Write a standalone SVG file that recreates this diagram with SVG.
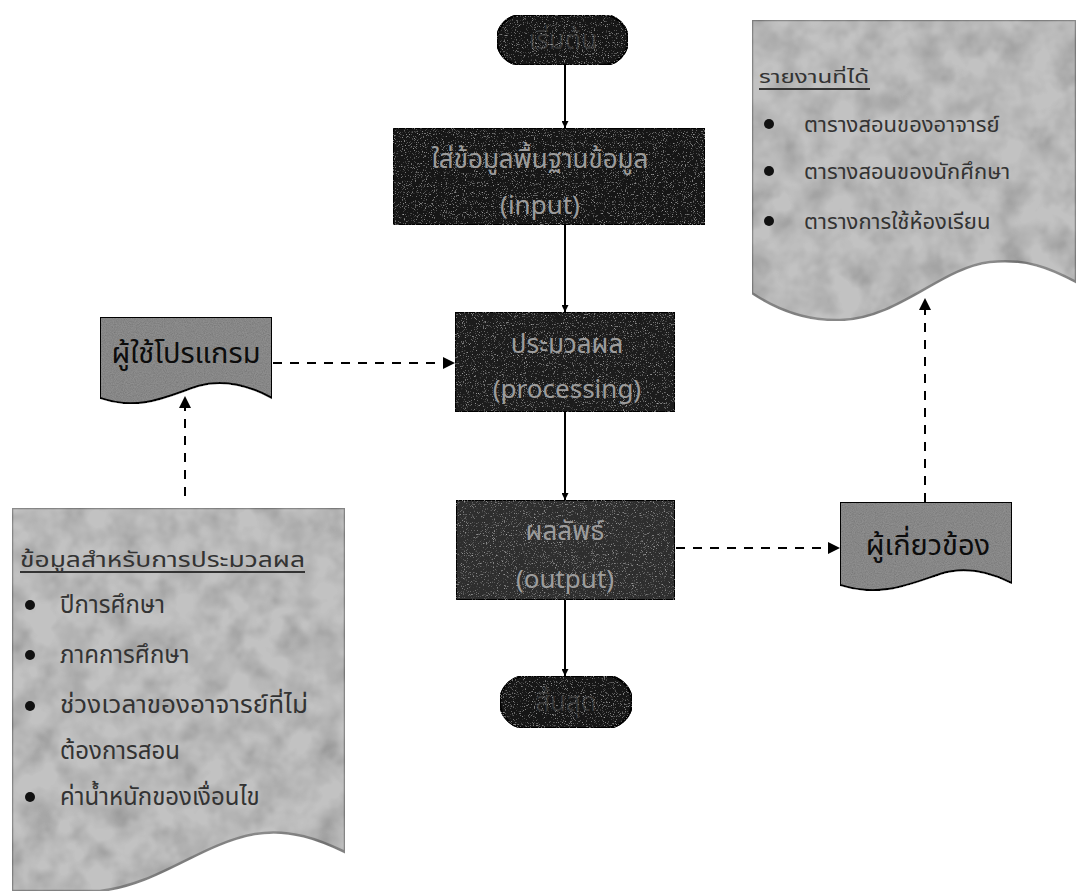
<svg xmlns="http://www.w3.org/2000/svg" width="1076" height="891" viewBox="0 0 1076 891">
  <style>
    .thai { font-family: "Noto Sans Thai", "Noto Sans", "DejaVu Sans", "Liberation Sans", sans-serif; }
    .dark { fill: #141414; stroke: #000; stroke-width: 2; }
    .darkText { fill: #9c9c9c; font-size: 26px; text-anchor: middle; }
    .doc { fill: #8e8e8e; stroke: #000; stroke-width: 2; }
    .docText { fill: #0c0c0c; font-size: 29px; text-anchor: middle; }
    .note { fill: #c2c2c2; stroke: #8a8a8a; stroke-width: 2.5; }
    .noteText { fill: #333; }
    .flow { stroke: #000; stroke-width: 2; fill: none; }
    .dash { stroke: #000; stroke-width: 2; fill: none; stroke-dasharray: 9 8; }
  </style>
  <defs>
    <marker id="arrow" viewBox="0 0 10 10" refX="10" refY="5" markerWidth="7" markerHeight="7" orient="auto" markerUnits="userSpaceOnUse">
      <path d="M0,0 L10,5 L0,10 Z" fill="#000"/>
    </marker>
    <marker id="arrowBig" viewBox="0 0 10 10" refX="10" refY="5" markerWidth="12" markerHeight="12" orient="auto" markerUnits="userSpaceOnUse">
      <path d="M0,0 L10,5 L0,10 Z" fill="#000"/>
    </marker>
    <!-- sparse light speckle for the dark process boxes -->
    <filter id="grain" x="0" y="0" width="100%" height="100%">
      <feTurbulence type="fractalNoise" baseFrequency="0.9" numOctaves="2" seed="4" result="noise"/>
      <feColorMatrix in="noise" type="matrix" values="0.33 0.33 0.33 0 0  0.33 0.33 0.33 0 0  0.33 0.33 0.33 0 0  0 0 0 0 1" result="gray"/>
      <feComponentTransfer in="gray" result="specks">
        <feFuncR type="linear" slope="2" intercept="-1.1"/>
        <feFuncG type="linear" slope="2" intercept="-1.1"/>
        <feFuncB type="linear" slope="2" intercept="-1.1"/>
      </feComponentTransfer>
      <feComposite in="specks" in2="SourceAlpha" operator="in" result="clip"/>
      <feBlend in="SourceGraphic" in2="clip" mode="screen"/>
    </filter>
    <!-- softer speckle for the mid-grey document shapes -->
    <filter id="grainMid" x="0" y="0" width="100%" height="100%">
      <feTurbulence type="fractalNoise" baseFrequency="0.9" numOctaves="2" seed="9" result="noise"/>
      <feColorMatrix in="noise" type="matrix" values="0.33 0.33 0.33 0 0  0.33 0.33 0.33 0 0  0.33 0.33 0.33 0 0  0 0 0 0 1" result="gray"/>
      <feComponentTransfer in="gray" result="soft">
        <feFuncR type="linear" slope="0.9" intercept="0.45"/>
        <feFuncG type="linear" slope="0.9" intercept="0.45"/>
        <feFuncB type="linear" slope="0.9" intercept="0.45"/>
      </feComponentTransfer>
      <feComposite in="soft" in2="SourceAlpha" operator="in" result="clip"/>
      <feBlend in="SourceGraphic" in2="clip" mode="multiply"/>
    </filter>
    <!-- cloudy mottling for the light note sheets -->
    <filter id="mottle" x="0" y="0" width="100%" height="100%">
      <feTurbulence type="fractalNoise" baseFrequency="0.035" numOctaves="3" seed="7" result="noise"/>
      <feColorMatrix in="noise" type="matrix" values="0.33 0.33 0.33 0 0  0.33 0.33 0.33 0 0  0.33 0.33 0.33 0 0  0 0 0 0 1" result="gray"/>
      <feComponentTransfer in="gray" result="soft">
        <feFuncR type="linear" slope="1.2" intercept="0.3"/>
        <feFuncG type="linear" slope="1.2" intercept="0.3"/>
        <feFuncB type="linear" slope="1.2" intercept="0.3"/>
      </feComponentTransfer>
      <feComposite in="soft" in2="SourceAlpha" operator="in" result="clip"/>
      <feBlend in="SourceGraphic" in2="clip" mode="multiply"/>
    </filter>
  </defs>

  <rect width="1076" height="891" fill="#fff"/>

  <!-- connectors -->
  <g id="connectors">
    <line class="flow" x1="565" y1="65" x2="565" y2="128" marker-end="url(#arrow)"/>
    <line class="flow" x1="565" y1="225" x2="565" y2="312" marker-end="url(#arrow)"/>
    <line class="flow" x1="565" y1="412" x2="565" y2="500" marker-end="url(#arrow)"/>
    <line class="flow" x1="565" y1="600" x2="565" y2="676" marker-end="url(#arrow)"/>
    <line class="dash" x1="273" y1="363" x2="455" y2="363" marker-end="url(#arrowBig)"/>
    <line class="dash" x1="185" y1="496" x2="185" y2="396" marker-end="url(#arrowBig)"/>
    <line class="dash" x1="676" y1="548" x2="840" y2="548" marker-end="url(#arrowBig)"/>
    <line class="dash" x1="925" y1="502" x2="925" y2="298" marker-end="url(#arrowBig)"/>
  </g>

  <!-- start terminator -->
  <g id="start">
    <rect class="dark" x="497" y="15" width="131" height="50" rx="25" filter="url(#grain)"/>
    <text class="thai darkText" x="563" y="49" fill-opacity="0.25">เริ่มต้น</text>
  </g>

  <!-- input -->
  <g id="input">
    <rect class="dark" x="393" y="128" width="312" height="97" filter="url(#grain)"/>
    <text class="thai darkText" x="540" y="168">ใส่ข้อมูลพื้นฐานข้อมูล</text>
    <text class="thai darkText" x="540" y="214">(input)</text>
  </g>

  <!-- processing -->
  <g id="process">
    <rect class="dark" x="455" y="312" width="220" height="100" style="fill:#1c1c1c" filter="url(#grain)"/>
    <text class="thai darkText" x="567" y="353">ประมวลผล</text>
    <text class="thai darkText" x="567" y="398">(processing)</text>
  </g>

  <!-- output -->
  <g id="output">
    <rect class="dark" x="456" y="500" width="219" height="100" style="fill:#2e2e2e" filter="url(#grain)"/>
    <text class="thai darkText" x="565" y="540">ผลลัพธ์</text>
    <text class="thai darkText" x="565" y="588">(output)</text>
  </g>

  <!-- end terminator -->
  <g id="end">
    <rect class="dark" x="500" y="676" width="132" height="52" rx="26" filter="url(#grain)"/>
    <text class="thai darkText" x="566" y="711" fill-opacity="0.25">สิ้นสุด</text>
  </g>

  <!-- program user document -->
  <g id="user">
    <path class="doc" d="M100,317 H272 V398 C250,386 225,378 198,386 C170,395 140,412 100,398 Z" filter="url(#grainMid)"/>
    <text class="thai docText" x="186" y="363">ผู้ใช้โปรแกรม</text>
  </g>

  <!-- stakeholder document -->
  <g id="stakeholder">
    <path class="doc" d="M840,502 H1012 V583 C990,572 965,566 940,574 C910,584 880,598 840,585 Z" filter="url(#grainMid)"/>
    <text class="thai docText" x="928" y="555">ผู้เกี่ยวข้อง</text>
  </g>

  <!-- processing input data sheet -->
  <g id="inputData">
    <path class="note" d="M12,508 H345 V852 C320,840 290,828 255,834 C200,844 160,884 100,891 L12,891 Z" filter="url(#mottle)"/>
    <g class="thai noteText" font-size="24">
      <text x="20" y="567" font-size="21" textLength="285" lengthAdjust="spacingAndGlyphs">ข้อมูลสำหรับการประมวลผล</text>
      <line x1="20" y1="572" x2="305" y2="572" stroke="#333" stroke-width="2"/>
      <circle cx="30" cy="605" r="5" fill="#111"/>
      <text x="60" y="613">ปีการศึกษา</text>
      <circle cx="30" cy="655" r="5" fill="#111"/>
      <text x="60" y="663">ภาคการศึกษา</text>
      <circle cx="30" cy="706" r="5" fill="#111"/>
      <text x="60" y="713" textLength="248" lengthAdjust="spacingAndGlyphs">ช่วงเวลาของอาจารย์ที่ไม่</text>
      <text x="60" y="759">ต้องการสอน</text>
      <circle cx="30" cy="797" r="5" fill="#111"/>
      <text x="60" y="805">ค่าน้ำหนักของเงื่อนไข</text>
    </g>
  </g>

  <!-- report sheet -->
  <g id="reports">
    <path class="note" d="M752,20 H1076 V282 C1050,268 1025,258 990,262 C940,268 900,318 840,320 C800,321 770,305 752,293 Z" filter="url(#mottle)"/>
    <g class="thai noteText" font-size="22">
      <text x="759" y="83" font-size="17" textLength="110" lengthAdjust="spacingAndGlyphs">รายงานที่ได้</text>
      <line x1="759" y1="89" x2="870" y2="89" stroke="#333" stroke-width="2"/>
      <circle cx="769" cy="124" r="5" fill="#111"/>
      <text x="804" y="132">ตารางสอนของอาจารย์</text>
      <circle cx="769" cy="171" r="5" fill="#111"/>
      <text x="804" y="179">ตารางสอนของนักศึกษา</text>
      <circle cx="769" cy="221" r="5" fill="#111"/>
      <text x="804" y="229">ตารางการใช้ห้องเรียน</text>
    </g>
  </g>
</svg>
